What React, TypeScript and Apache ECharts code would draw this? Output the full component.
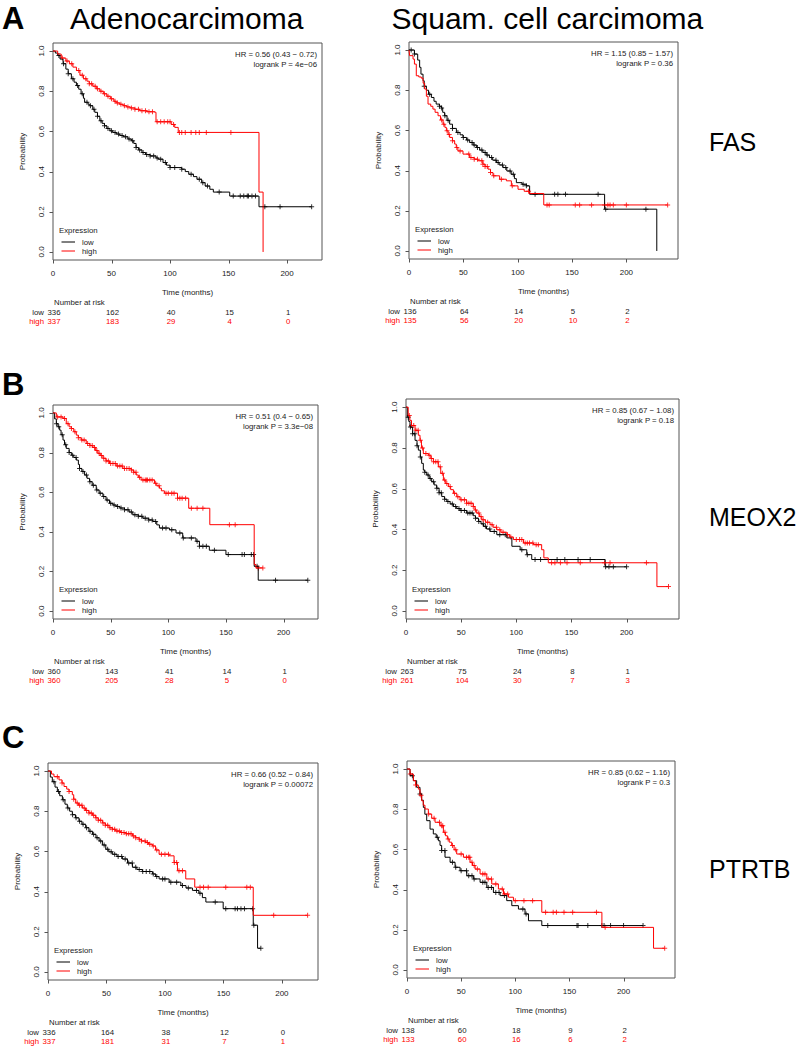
import React, { useEffect, useRef } from 'react';
import * as echarts from 'echarts';

type Step = [number, number];

// ---------- Panel A: FAS ----------
const fasAdenoLow: Step[] = [[0,1],[2,0.99],[4,0.978],[6,0.96],[8.6,0.937],[11,0.91],[13,0.887],[15.7,0.862],[18,0.845],[20,0.828],[22,0.81],[24,0.787],[26,0.765],[27,0.745],[30,0.735],[31.4,0.728],[34,0.71],[35.7,0.695],[38,0.675],[40,0.653],[42,0.64],[44,0.628],[46,0.615],[48.6,0.603],[51,0.595],[54,0.587],[57,0.58],[60,0.573],[64,0.562],[67,0.553],[69,0.54],[71,0.52],[73,0.508],[76,0.495],[79,0.485],[83,0.478],[88,0.468],[90,0.462],[94,0.445],[97,0.432],[100,0.42],[110,0.412],[113,0.4],[116,0.387],[120,0.375],[123,0.362],[127,0.345],[130,0.328],[134,0.312],[137,0.298],[151,0.278],[176,0.225]];
const fasAdenoLowCensor = [5,9,13,17,21,25,29,32,35,38,41,44,47,50,53,56,59,62,65,68,71,74,77,80,83,86,89,92,96,100,104,110,118,125,128,132,142,154,160,163,166,167,170,173,181,194,221];
const fasAdenoHigh: Step[] = [[0,1],[4,0.985],[7,0.965],[11,0.95],[14,0.937],[17,0.92],[20,0.903],[23,0.88],[26,0.862],[29,0.85],[31,0.837],[34,0.825],[37,0.812],[40,0.8],[43,0.787],[46,0.775],[49,0.762],[52,0.75],[54,0.742],[57,0.735],[60,0.728],[63,0.722],[66,0.717],[70,0.71],[74,0.703],[80,0.698],[86,0.695],[88,0.648],[101,0.635],[104,0.62],[107,0.595],[176,0.298],[179.5,0]];
const fasAdenoHighCensor = [8,12,16,22,25,28,31,33,36,38,41,44,47,50,53,55,58,61,64,67,70,73,76,79,82,85,89,92,95,98,100,103,108,110,113,118,122,125,131,152];
const fasAdenoRiskLow = [336, 162, 40, 15, 1];
const fasAdenoRiskHigh = [337, 183, 29, 4, 0];

const fasSquamLow: Step[] = [[0,1],[5,0.98],[8,0.95],[9.8,0.914],[11,0.88],[12.9,0.847],[14,0.82],[16,0.8],[18,0.78],[20.6,0.764],[23,0.745],[25,0.731],[28,0.72],[30,0.711],[31,0.69],[32.8,0.673],[35,0.65],[37.4,0.631],[40,0.61],[43.6,0.59],[47,0.578],[49.7,0.565],[53,0.552],[55.8,0.54],[59,0.527],[62,0.515],[65,0.502],[68,0.49],[71,0.477],[74,0.465],[77,0.452],[80.4,0.44],[83,0.428],[86.5,0.415],[90,0.398],[94,0.382],[97,0.36],[98.8,0.34],[104,0.332],[108,0.324],[111,0.282],[180,0.208],[228,0]];
const fasSquamLowCensor = [2,5,14,19,28,30,33,36,40,45,50,54,58,60,63,67,70,72,76,80,82,86,89,93,96,105,108,116,134,137,144,174,181,218];
const fasSquamHigh: Step[] = [[0,1],[0.6,0.972],[3.7,0.955],[5,0.93],[6.7,0.872],[9,0.866],[11.3,0.86],[13,0.835],[14.4,0.806],[16,0.77],[17.5,0.731],[20,0.72],[22,0.706],[24,0.69],[26.7,0.673],[29,0.652],[31.3,0.631],[33,0.615],[34.4,0.598],[36,0.58],[37.4,0.565],[40,0.548],[42,0.532],[43.5,0.515],[45,0.498],[49.7,0.482],[55.8,0.465],[60,0.457],[63.5,0.449],[68,0.432],[70,0.42],[72.7,0.407],[75,0.39],[77.3,0.374],[83.4,0.357],[89.6,0.349],[94.2,0.324],[100.3,0.307],[106,0.297],[111,0.286],[124,0.229]];
const fasSquamHighCensor = [30,32,35,37,40,44,47,55,57,60,63,67,68,70,72,75,78,85,95,110,127,129,153,157,168,180,183,185,188,200,238];
const fasSquamRiskLow = [136, 64, 14, 5, 2];
const fasSquamRiskHigh = [135, 56, 20, 10, 2];

// ---------- Panel B: MEOX2 ----------
const meoxAdenoLow: Step[] = [[0,1],[1.4,0.97],[2.9,0.946],[4.3,0.93],[5.8,0.913],[7,0.89],[8.7,0.863],[10,0.84],[11.5,0.821],[14,0.8],[15.9,0.787],[18,0.775],[20.2,0.762],[22,0.74],[23,0.72],[25,0.705],[27.4,0.687],[29.5,0.67],[31.7,0.653],[34,0.635],[37.5,0.611],[40,0.595],[43.3,0.578],[46,0.56],[49,0.544],[52,0.535],[54.8,0.528],[58,0.52],[62,0.511],[66,0.5],[69.2,0.486],[74,0.478],[77.9,0.469],[83,0.46],[86.5,0.452],[90,0.435],[92.3,0.419],[101,0.41],[106.7,0.394],[112.5,0.369],[124,0.352],[127,0.327],[135.6,0.307],[150,0.285],[174.5,0.226],[178,0.156]];
const meoxAdenoLowCensor = [3,5,8,11,14,17,20,23,26,29,32,35,38,41,44,47,50,53,56,59,62,65,68,71,74,77,80,83,86,89,95,98,103,110,113,120,125,127,130,133,140,152,164,166,172,174,177,193,221];
const meoxAdenoHigh: Step[] = [[0,1],[2.9,0.98],[8.7,0.972],[11.5,0.946],[14,0.93],[15.9,0.921],[18,0.905],[20.2,0.888],[22,0.875],[24.5,0.863],[28.8,0.846],[32,0.835],[34.6,0.826],[37,0.81],[38.9,0.796],[41,0.785],[43.3,0.771],[46,0.758],[49,0.745],[54.8,0.732],[60.6,0.72],[67.8,0.712],[70,0.7],[72.1,0.687],[74,0.675],[76.4,0.662],[88,0.645],[90,0.632],[92.3,0.62],[94,0.607],[96.6,0.595],[108,0.57],[117.7,0.519],[136,0.436],[174.5,0.235],[176,0.218]];
const meoxAdenoHighCensor = [4,7,10,13,16,19,22,25,27,30,32,34,36,38,40,42,44,46,48,50,52,54,56,58,60,62,64,66,68,70,72,75,78,80,81,82,84,86,89,92,98,100,103,105,108,110,112,115,120,125,130,153,158,178,182];
const meoxAdenoRiskLow = [360, 143, 41, 14, 1];
const meoxAdenoRiskHigh = [360, 205, 28, 5, 0];

const meoxSquamLow: Step[] = [[0,1],[1.2,0.951],[2.5,0.93],[3.6,0.902],[6,0.87],[8.2,0.837],[10,0.81],[11.2,0.789],[13,0.755],[14.2,0.724],[15.7,0.691],[17,0.68],[18.8,0.667],[21,0.65],[23.3,0.634],[25.5,0.618],[27.8,0.602],[30,0.58],[32.4,0.561],[35,0.548],[37,0.537],[40,0.525],[43,0.512],[46,0.502],[49,0.493],[55,0.48],[61,0.467],[63,0.455],[65.7,0.439],[68,0.427],[70.2,0.415],[73,0.402],[76.2,0.39],[82.3,0.374],[91.4,0.358],[96,0.317],[103.5,0.3],[109.5,0.276],[114,0.252],[180.6,0.216]];
const meoxSquamLowCensor = [2,4,6,8,10,13,17,20,22,25,28,30,32,35,38,42,45,48,50,53,56,58,60,63,66,70,72,76,80,85,90,105,110,117,122,137,144,156,167,181,184,188,200];
const meoxSquamHigh: Step[] = [[0,1],[2,0.959],[3.5,0.935],[5,0.91],[8.2,0.886],[11.2,0.862],[12.7,0.837],[14,0.8],[15.7,0.772],[20.3,0.764],[22.5,0.748],[24.8,0.732],[29.3,0.707],[31.5,0.675],[33.9,0.642],[36,0.625],[38.4,0.61],[40.5,0.595],[43,0.577],[46,0.56],[49,0.545],[55,0.528],[61,0.512],[62.5,0.495],[64.1,0.48],[66.5,0.463],[68.7,0.447],[72,0.435],[76.2,0.423],[79,0.41],[82.3,0.398],[86,0.386],[91.4,0.374],[94,0.362],[97.4,0.35],[106.5,0.333],[115.6,0.325],[123,0.3],[125,0.26],[129,0.236],[227.5,0.119]];
const meoxSquamHighCensor = [3,5,7,9,11,13,15,18,21,23,25,27,29,31,33,35,37,40,44,47,50,53,55,57,59,61,63,66,68,70,74,78,82,85,88,92,95,100,103,105,108,110,112,115,118,120,132,135,140,146,158,180,185,218,238];
const meoxSquamRiskLow = [263, 75, 24, 8, 1];
const meoxSquamRiskHigh = [261, 104, 30, 7, 3];

// ---------- Panel C: PTRTB ----------
const ptrtbAdenoLow: Step[] = [[0,1],[2,0.97],[3.7,0.947],[6,0.92],[8,0.898],[10,0.877],[12.3,0.857],[14.5,0.835],[16.5,0.816],[18.5,0.8],[20.8,0.783],[23.5,0.767],[26.5,0.75],[29,0.735],[32.2,0.718],[35,0.7],[38,0.685],[41,0.668],[43.7,0.652],[46.5,0.632],[49.4,0.611],[52,0.598],[55,0.586],[59,0.575],[63.6,0.562],[68,0.542],[72.2,0.521],[76,0.51],[80.7,0.5],[89.3,0.488],[92,0.475],[95,0.463],[103.6,0.447],[113.6,0.43],[118,0.418],[123.5,0.406],[129,0.392],[132,0.37],[135,0.348],[149.8,0.315],[175.5,0.233],[179.2,0.118]];
const ptrtbAdenoLowCensor = [5,9,13,17,21,24,27,30,33,36,39,42,45,48,51,54,57,60,63,66,69,72,75,78,81,84,87,90,93,98,100,105,110,115,120,127,130,143,152,160,162,165,168,175,176,182];
const ptrtbAdenoHigh: Step[] = [[0,1],[3,0.985],[5.1,0.972],[9.4,0.956],[12,0.94],[13.7,0.923],[16,0.91],[18,0.898],[20.8,0.882],[22,0.86],[23.7,0.841],[26,0.83],[29.4,0.816],[32,0.804],[35,0.791],[38,0.78],[40.8,0.767],[43,0.755],[46.5,0.742],[49,0.73],[52.2,0.718],[55,0.71],[57.9,0.701],[62,0.694],[66.5,0.688],[72.2,0.677],[75,0.668],[77.9,0.66],[80,0.652],[83.6,0.644],[86,0.636],[89.3,0.627],[92,0.607],[95,0.586],[103.6,0.578],[107.8,0.545],[110.7,0.504],[117.8,0.463],[125.5,0.422],[175.5,0.282]];
const ptrtbAdenoHighCensor = [8,12,18,22,25,27,29,31,33,35,37,39,41,43,45,47,49,51,53,55,57,59,61,63,65,67,69,71,73,75,78,80,83,85,87,90,93,97,100,103,108,110,112,115,130,133,137,152,170,173,193,222];
const ptrtbAdenoRiskLow = [336, 164, 38, 12, 0];
const ptrtbAdenoRiskHigh = [337, 181, 31, 7, 1];

const ptrtbSquamLow: Step[] = [[0,1],[2.8,0.967],[5.9,0.942],[8.9,0.909],[12,0.876],[13.5,0.845],[15.1,0.809],[16.5,0.775],[18.2,0.743],[21.3,0.701],[24.3,0.677],[27,0.66],[29,0.643],[30.5,0.62],[32,0.594],[35.1,0.561],[39.8,0.536],[44.4,0.511],[49,0.494],[55.2,0.469],[61.3,0.453],[67.5,0.436],[73.7,0.411],[79.8,0.386],[86,0.37],[92.1,0.345],[96.8,0.32],[102.9,0.303],[109,0.279],[112.2,0.245],[124.5,0.221]];
const ptrtbSquamLowCensor = [5,12,28,32,35,42,45,50,55,57,60,62,70,72,75,78,82,85,90,107,110,130,157,158,167,180,182,188,200,218];
const ptrtbSquamHigh: Step[] = [[0,1],[2.8,0.975],[5.9,0.942],[8,0.92],[10.5,0.9],[12,0.87],[13.6,0.842],[15,0.82],[16.6,0.801],[19.7,0.776],[22.8,0.755],[25.9,0.735],[30.5,0.718],[33.6,0.685],[35.5,0.668],[37.3,0.652],[39,0.636],[41.3,0.619],[43.5,0.598],[45.9,0.577],[52.1,0.561],[58.2,0.536],[60.5,0.52],[62.9,0.502],[67.5,0.478],[73.7,0.453],[78.3,0.428],[84.4,0.403],[89.1,0.378],[93.7,0.362],[98.3,0.345],[124.5,0.287],[180,0.212],[227.7,0.108]];
const ptrtbSquamHighCensor = [3,8,13,20,25,30,32,33,35,38,42,45,50,55,57,58,60,62,65,70,72,75,78,82,88,90,93,100,108,116,128,135,138,145,153,175,183,238];
const ptrtbSquamRiskLow = [138, 60, 18, 9, 2];
const ptrtbSquamRiskHigh = [133, 60, 16, 6, 2];

// ---------- labels ----------
const riskTimes = [0, 50, 100, 150, 200];
const probTicks = [0, 0.2, 0.4, 0.6, 0.8, 1.0];
const hrTexts = [
  ['HR = 0.56 (0.43 \u2212 0.72)', 'logrank P = 4e\u221206'],
  ['HR = 1.15 (0.85 \u2212 1.57)', 'logrank P = 0.36'],
  ['HR = 0.51 (0.4 \u2212 0.65)', 'logrank P = 3.3e\u221208'],
  ['HR = 0.85 (0.67 \u2212 1.08)', 'logrank P = 0.18'],
  ['HR = 0.66 (0.52 \u2212 0.84)', 'logrank P = 0.00072'],
  ['HR = 0.85 (0.62 \u2212 1.16)', 'logrank P = 0.3'],
];
const columnTitles = ['Adenocarcimoma', 'Squam. cell carcimoma'];
const panelLetters = ['A', 'B', 'C'];
const geneNames = ['FAS', 'MEOX2', 'PTRTB'];

const panels = [
  { low: fasAdenoLow, lowC: fasAdenoLowCensor, high: fasAdenoHigh, highC: fasAdenoHighCensor, rl: fasAdenoRiskLow, rh: fasAdenoRiskHigh },
  { low: fasSquamLow, lowC: fasSquamLowCensor, high: fasSquamHigh, highC: fasSquamHighCensor, rl: fasSquamRiskLow, rh: fasSquamRiskHigh },
  { low: meoxAdenoLow, lowC: meoxAdenoLowCensor, high: meoxAdenoHigh, highC: meoxAdenoHighCensor, rl: meoxAdenoRiskLow, rh: meoxAdenoRiskHigh },
  { low: meoxSquamLow, lowC: meoxSquamLowCensor, high: meoxSquamHigh, highC: meoxSquamHighCensor, rl: meoxSquamRiskLow, rh: meoxSquamRiskHigh },
  { low: ptrtbAdenoLow, lowC: ptrtbAdenoLowCensor, high: ptrtbAdenoHigh, highC: ptrtbAdenoHighCensor, rl: ptrtbAdenoRiskLow, rh: ptrtbAdenoRiskHigh },
  { low: ptrtbSquamLow, lowC: ptrtbSquamLowCensor, high: ptrtbSquamHigh, highC: ptrtbSquamHighCensor, rl: ptrtbSquamRiskLow, rh: ptrtbSquamRiskHigh },
];

// ---------- layout (pixels) ----------
const boxes = [
  { left: 53, top: 43, width: 269, height: 217 },
  { left: 409, top: 42, width: 269, height: 217 },
  { left: 53, top: 405, width: 265, height: 214 },
  { left: 406, top: 399, width: 273, height: 220 },
  { left: 48, top: 763, width: 270, height: 217 },
  { left: 407, top: 761, width: 268, height: 217 },
];
const letterY = [18.5, 384, 737.5];
const geneY = [141.7, 517.3, 869];
const titleX = [70, 391.5];
const Y_MIN = -0.04;
const Y_MAX = 1.04;
const TICK = 3.5;

const FONT = "'Liberation Sans', Arial, Helvetica, sans-serif";
const RED = '#ff0000';
const BLACK = '#000000';
const FRAME = '#555555';
const TEXT = '#1a1a1a';
const PLUS = 'path://M-1,-0.2H1V0.2H-1Z M-0.2,-1H0.2V1H-0.2Z';

function survAt(steps: Step[], t: number) {
  let s = 1;
  for (const [ts, v] of steps) {
    if (ts <= t) s = v; else break;
  }
  return s;
}
function curveEnd(steps: Step[], censor: number[]) {
  return Math.max(steps[steps.length - 1][0], ...censor);
}
function lineData(steps: Step[], censor: number[]) {
  const end = curveEnd(steps, censor);
  const d = steps.map((p) => [p[0], p[1]]);
  const last = steps[steps.length - 1];
  if (end > last[0]) d.push([end, last[1]]);
  return d;
}

function buildOption() {
  const grid: any[] = [];
  const xAxis: any[] = [];
  const yAxis: any[] = [];
  const series: any[] = [];
  const graphic: any[] = [];
  const small = { fontSize: 8, fontFamily: FONT, color: TEXT };
  const txt = (text: string, x: number, y: number, extra: any = {}) => ({
    type: 'text', x, y, silent: true,
    style: { text, verticalAlign: 'middle', fontSize: 7.8, fontFamily: FONT, fill: TEXT, ...extra },
  });
  const seg = (x1: number, y1: number, x2: number, y2: number, stroke: string) => ({
    type: 'line', silent: true, shape: { x1, y1, x2, y2 }, style: { stroke, lineWidth: 1 },
  });

  panels.forEach((p, i) => {
    const b = boxes[i];
    const xmax = 1.04 * Math.max(curveEnd(p.low, p.lowC), curveEnd(p.high, p.highC));
    grid.push({ left: b.left, top: b.top, width: b.width, height: b.height, show: true, borderColor: FRAME, borderWidth: 1, backgroundColor: 'transparent' });
    xAxis.push({
      gridIndex: i, type: 'value', min: 0, max: xmax, position: 'bottom',
      axisLine: { show: false, onZero: false }, splitLine: { show: false },
      axisTick: { show: false },
      axisLabel: { customValues: riskTimes, margin: 9, ...small },
      name: 'Time (months)', nameLocation: 'middle', nameGap: 28, nameTextStyle: small,
    });
    yAxis.push({
      gridIndex: i, type: 'value', min: Y_MIN, max: Y_MAX, position: 'left',
      axisLine: { show: false, onZero: false }, splitLine: { show: false },
      axisTick: { show: false },
      axisLabel: { show: false },
      name: 'Probability', nameLocation: 'middle', nameGap: 27, nameRotate: 90, nameTextStyle: small,
    });
    const groups: [Step[], number[], string, string][] = [
      [p.low, p.lowC, BLACK, 'low'],
      [p.high, p.highC, RED, 'high'],
    ];
    groups.forEach(([steps, cens, col, nm]) => {
      series.push({
        type: 'line', name: nm, xAxisIndex: i, yAxisIndex: i, step: 'end', showSymbol: false,
        data: lineData(steps, cens), lineStyle: { color: col, width: 1 }, silent: true,
      });
      series.push({
        type: 'scatter', name: nm, xAxisIndex: i, yAxisIndex: i, symbol: PLUS, symbolSize: 5,
        data: cens.map((t) => [t, survAt(steps, t)]), itemStyle: { color: col }, silent: true,
      });
    });

    const bottom = b.top + b.height;
    const right = b.left + b.width;
    // x ticks (outward, below the frame)
    riskTimes.forEach((t) => {
      const x = Math.round(b.left + (t / xmax) * b.width) + 0.5;
      graphic.push(seg(x, bottom, x, bottom + TICK, FRAME));
    });
    // y ticks and rotated y tick labels (read bottom to top, as in R)
    probTicks.forEach((v) => {
      const y = b.top + ((Y_MAX - v) / (Y_MAX - Y_MIN)) * b.height;
      const yy = Math.round(y) + 0.5;
      graphic.push(seg(b.left - TICK, yy, b.left, yy, FRAME));
      graphic.push({
        type: 'text', x: b.left - 12, y, rotation: Math.PI / 2, silent: true,
        style: { text: v.toFixed(1), align: 'center', verticalAlign: 'middle', fontSize: 8, fontFamily: FONT, fill: TEXT },
      });
    });
    // HR text
    graphic.push(txt(hrTexts[i][0], right - 5, b.top + 11.7, { align: 'right' }));
    graphic.push(txt(hrTexts[i][1], right - 5, b.top + 21, { align: 'right' }));
    // legend
    graphic.push(txt('Expression', b.left + 6, bottom - 30));
    [['low', BLACK, -18], ['high', RED, -9]].forEach(([lab, col, dy]: any) => {
      graphic.push(seg(b.left + 8.5, bottom + dy, b.left + 22, bottom + dy, col));
      graphic.push(txt(lab, b.left + 29, bottom + dy));
    });
    // number at risk
    graphic.push(txt('Number at risk', b.left + 1, bottom + 42.5));
    graphic.push(txt('low', b.left - 9, bottom + 52, { align: 'right' }));
    graphic.push(txt('high', b.left - 9, bottom + 61.3, { align: 'right', fill: RED }));
    riskTimes.forEach((t, k) => {
      const x = b.left + (t / xmax) * b.width;
      graphic.push(txt(String(p.rl[k]), x + 1, bottom + 52, { align: 'center' }));
      graphic.push(txt(String(p.rh[k]), x + 1, bottom + 61.3, { align: 'center', fill: RED }));
    });
  });

  // panel letters, column titles, gene names
  panelLetters.forEach((l, r) => {
    graphic.push({ type: 'text', x: 2, y: letterY[r], silent: true, style: { text: l, verticalAlign: 'middle', fontSize: 31, fontWeight: 'bold', fontFamily: FONT, fill: '#000' } });
    graphic.push({ type: 'text', x: 709, y: geneY[r], silent: true, style: { text: geneNames[r], verticalAlign: 'middle', fontSize: 25, fontFamily: FONT, fill: '#000' } });
  });
  columnTitles.forEach((t, c) => {
    graphic.push({ type: 'text', x: titleX[c], y: 18.5, silent: true, style: { text: t, verticalAlign: 'middle', fontSize: 30, fontFamily: FONT, fill: '#000' } });
  });

  return { animation: false, grid, xAxis, yAxis, series, graphic };
}

export default function App() {
  const ref = useRef<HTMLDivElement>(null);
  useEffect(() => {
    if (!ref.current) return;
    const chart = echarts.init(ref.current, undefined, { renderer: 'svg' });
    chart.setOption(buildOption() as any);
    return () => chart.dispose();
  }, []);
  return <div ref={ref} style={{ position: 'absolute', left: 0, top: 0, width: 798, height: 1047, background: '#fff' }} />;
}
